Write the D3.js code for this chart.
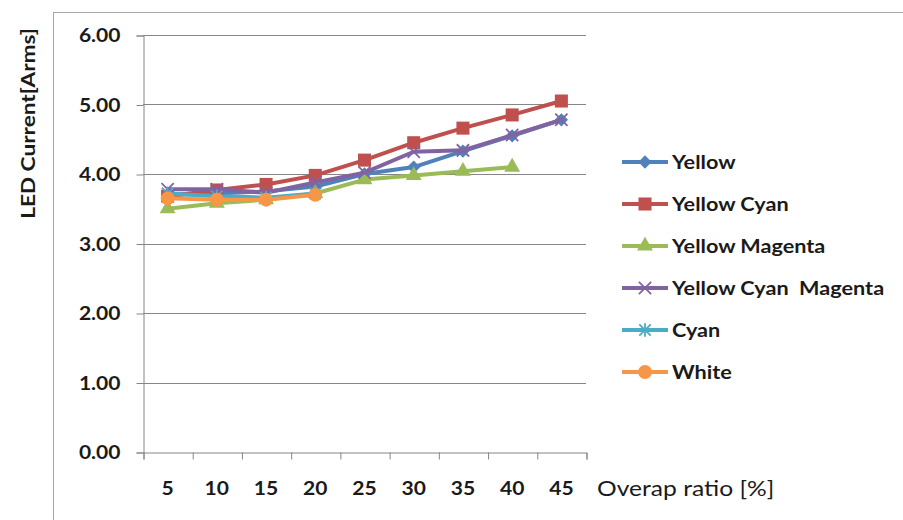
<!DOCTYPE html>
<html>
<head>
<meta charset="utf-8">
<script src="https://cdn.jsdelivr.net/npm/d3@7"></script>
<style>
  html, body { margin: 0; padding: 0; background: #fff; }
  svg { display: block; }
  text { font-family: "Lato", "Liberation Sans", sans-serif; fill: #1a1a1a; }
</style>
</head>
<body>
<svg id="chart" width="903" height="520"></svg>
<script>
const categories = ["5", "10", "15", "20", "25", "30", "35", "40", "45"];
const seriesNames = ["Yellow", "Yellow Cyan", "Yellow Magenta", "Yellow Cyan  Magenta", "Cyan", "White"];
const yellow            = [3.70, 3.72, 3.75, 3.82, 4.00, 4.10, 4.33, 4.55, 4.78];
const yellowCyan        = [3.68, 3.77, 3.85, 3.98, 4.20, 4.45, 4.66, 4.85, 5.05];
const yellowMagenta     = [3.50, 3.58, 3.63, 3.72, 3.92, 3.98, 4.04, 4.10, null];
const yellowCyanMagenta = [3.78, 3.78, 3.73, 3.88, 4.02, 4.32, 4.34, 4.56, 4.78];
const cyan              = [3.72, 3.68, 3.66, 3.72, null, null, null, null, null];
const white             = [3.65, 3.63, 3.63, 3.70, null, null, null, null, null];
const yTicks = [0, 1, 2, 3, 4, 5, 6];
const yTitle = "LED Current[Arms]";
const xTitle = "Overap ratio [%]";

const seriesValues = [yellow, yellowCyan, yellowMagenta, yellowCyanMagenta, cyan, white];
const colors = ["#4F81BD", "#C0504D", "#9BBB59", "#8064A2", "#4BACC6", "#F79646"];

// custom Excel-like markers
const diamond = { draw(c, size) { const r = Math.sqrt(size / 2); c.moveTo(0, -r); c.lineTo(r, 0); c.lineTo(0, r); c.lineTo(-r, 0); c.closePath(); } };
const star = { draw(c, size) { const r = Math.sqrt(size) / 2; c.moveTo(-r, -r); c.lineTo(r, r); c.moveTo(r, -r); c.lineTo(-r, r); c.moveTo(0, -r * 1.2); c.lineTo(0, r * 1.2); } };
const xMark = { draw(c, size) { const r = Math.sqrt(size) / 2; c.moveTo(-r, -r); c.lineTo(r, r); c.moveTo(r, -r); c.lineTo(-r, r); } };
const symbols = [diamond, d3.symbolSquare, d3.symbolTriangle, xMark, star, d3.symbolCircle];
const symSizes = [88, 170, 110, 150, 130, 150];
const stroked = [false, false, false, true, true, false];

const S = 1.17; // horizontal text stretch
const svg = d3.select("#chart");
const pLeft = 143, pRight = 586, pTop = 35, pBottom = 452;

// outer chart border
svg.append("rect").attr("x", 53.5).attr("y", 12.5).attr("width", 900).attr("height", 520)
  .attr("fill", "none").attr("stroke", "#a6a6a6").attr("stroke-width", 1);

const x = d3.scaleBand().domain(categories).range([pLeft, pRight]).paddingInner(0).paddingOuter(0);
const xEdge = d3.scaleLinear().domain([0, categories.length]).range([pLeft, pRight]);
const y = d3.scaleLinear().domain([0, 6]).range([pBottom, pTop]);

// gridlines
svg.append("g").selectAll("line").data(yTicks.filter(d => d > 0)).join("line")
  .attr("x1", pLeft).attr("x2", pRight)
  .attr("y1", d => Math.round(y(d)) + 0.5).attr("y2", d => Math.round(y(d)) + 0.5)
  .attr("stroke", "#868686").attr("stroke-width", 1);

// y axis
const yAxis = svg.append("g").attr("transform", `translate(${pLeft + 0.5},0.5)`)
  .call(d3.axisLeft(y).tickValues(yTicks).tickSize(7).tickPadding(16).tickFormat(d3.format(".2f")));
yAxis.selectAll("path, line").attr("stroke", "#868686");
yAxis.selectAll("text").attr("x", 0).attr("dy", "0.36em")
  .attr("transform", `translate(-23,0) scale(${S},1)`)
  .attr("font-size", 18).attr("font-weight", "bold").attr("font-family", "Lato").attr("fill", "#1a1a1a");

// x axis: tick marks at category boundaries
const xTickAxis = svg.append("g").attr("transform", `translate(0.5,${pBottom + 0.5})`)
  .call(d3.axisBottom(xEdge).tickValues(d3.range(categories.length + 1)).tickSize(7).tickFormat(""));
xTickAxis.selectAll("path, line").attr("stroke", "#868686");
// category labels at band centres (band axis already centres ticks)
const xLab = svg.append("g").attr("transform", `translate(0,${pBottom})`)
  .call(d3.axisBottom(x).tickSize(0).tickPadding(0));
xLab.select(".domain").remove();
xLab.selectAll("text").attr("y", 0).attr("dy", 0)
  .attr("transform", `translate(0,43) scale(${S},1)`)
  .attr("font-size", 18).attr("font-weight", "bold").attr("font-family", "Lato").attr("fill", "#1a1a1a");

svg.append("text").attr("transform", `translate(597,${pBottom + 44}) scale(1.12,1)`)
  .attr("font-size", 22).attr("font-family", "Lato").text(xTitle);

svg.append("text").attr("transform", `translate(35,123.5) rotate(-90) scale(1.16,1)`)
  .attr("text-anchor", "middle").attr("font-size", 19.5).attr("font-weight", "bold").text(yTitle);

// series
const line = d3.line().defined(d => d != null).x((d, i) => x(categories[i]) + x.bandwidth() / 2).y(d => y(d));
seriesValues.forEach((vals, si) => {
  const g = svg.append("g");
  g.append("path").datum(vals).attr("d", line).attr("fill", "none")
    .attr("stroke", colors[si]).attr("stroke-width", 4).attr("stroke-linejoin", "round");
  g.selectAll("path.m").data(vals.map((v, i) => ({v, i})).filter(d => d.v != null)).join("path")
    .attr("class", "m")
    .attr("transform", d => `translate(${x(categories[d.i]) + x.bandwidth() / 2},${y(d.v)})`)
    .attr("d", d3.symbol(symbols[si], symSizes[si]))
    .attr("fill", stroked[si] ? "none" : colors[si])
    .attr("stroke", colors[si]).attr("stroke-width", stroked[si] ? 1.8 : 0);
});

// legend
const legY = d3.scalePoint().domain(seriesNames).range([162, 372]);
seriesNames.forEach((name, si) => {
  const g = svg.append("g").attr("transform", `translate(0,${legY(name)})`);
  g.append("line").attr("x1", 622).attr("x2", 668).attr("y1", 0).attr("y2", 0)
    .attr("stroke", colors[si]).attr("stroke-width", 4);
  g.append("path").attr("transform", "translate(645,0)").attr("d", d3.symbol(symbols[si], symSizes[si]))
    .attr("fill", stroked[si] ? "none" : colors[si])
    .attr("stroke", colors[si]).attr("stroke-width", stroked[si] ? 1.8 : 0);
  g.append("text").attr("transform", `translate(672,0) scale(${S},1)`).attr("dy", "0.36em")
    .attr("font-size", 18.5).attr("font-weight", "bold").attr("xml:space", "preserve")
    .style("white-space", "pre").text(name);
});
</script>
</body>
</html>
